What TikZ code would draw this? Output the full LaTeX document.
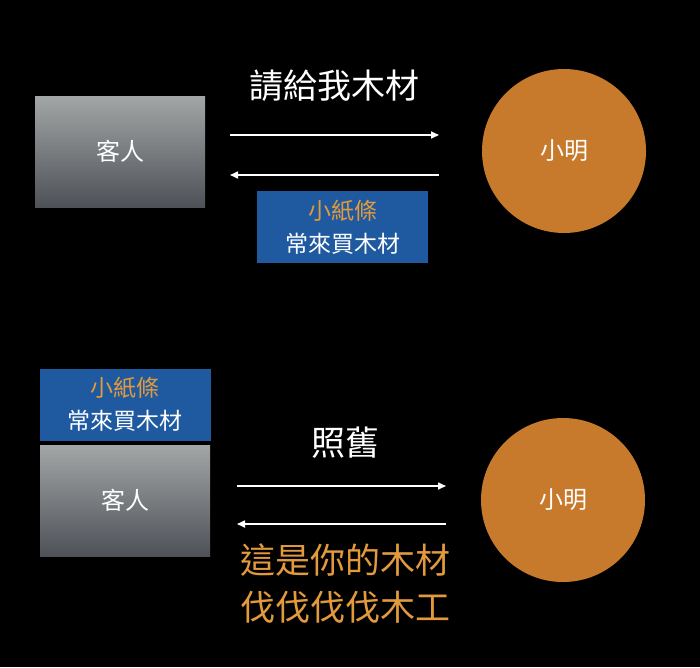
\documentclass[tikz,border=0pt]{standalone}
\usepackage{fontspec}
\newfontfamily\cjk{Noto Sans CJK TC}
\usetikzlibrary{arrows.meta}
\definecolor{boxtop}{HTML}{A2A6A6}
\definecolor{boxbot}{HTML}{4E5258}
\definecolor{note}{HTML}{1F5AA0}
\definecolor{ball}{HTML}{C87A2C}
\definecolor{amber}{HTML}{E39A3C}
\tikzset{
  person/.style={minimum width=170pt, minimum height=111pt, inner sep=0pt, top color=boxtop, bottom color=boxbot, text=white, font=\cjk\fontsize{24}{28}\selectfont},
  notebox/.style={fill=note, minimum width=171pt, minimum height=72pt, inner sep=0pt, text=white, align=center, font=\cjk\fontsize{23}{33}\selectfont},
  shop/.style={circle, fill=ball, minimum size=164pt, inner sep=0pt, text=white, font=\cjk\fontsize{24}{28}\selectfont},
  msg/.style={white, line width=1.6pt, -{Triangle[length=8pt,width=7pt]}},
  title/.style={text=white, font=\cjk\fontsize{34}{40}\selectfont},
  reply/.style={text=amber, align=center, font=\cjk\fontsize{35}{47}\selectfont}
}
\begin{document}
\begin{tikzpicture}[x=1pt,y=-1pt]
\fill[black] (0,0) rectangle (700,667);
\useasboundingbox (0,0) rectangle (700,667);
% top scene
\node[person] (c1) at (120,151.5) {客人};
\node[shop] (m1) at (564,151) {小明};
\node[title] (t1) at (334,86) {請給我木材};
\coordinate (a1s) at (230,135);
\coordinate (a1e) at (439,135);
\coordinate (b1s) at (439,175);
\coordinate (b1e) at (230,175);
\draw[msg] (a1s) -- (a1e);
\draw[msg] (b1s) -- (b1e);
\node[notebox] (n1) at (342.5,227) {\textcolor{amber}{小紙條}\\常來買木材};
% bottom scene
\node[notebox] (n2) at (125,404.5) {\textcolor{amber}{小紙條}\\常來買木材};
\node[person] (c2) at (125,500.5) {客人};
\node[shop] (m2) at (563,500) {小明};
\node[title] (t2) at (345,443) {照舊};
\coordinate (a2s) at (237,486);
\coordinate (a2e) at (446,486);
\coordinate (b2s) at (446,524);
\coordinate (b2e) at (237,524);
\draw[msg] (a2s) -- (a2e);
\draw[msg] (b2s) -- (b2e);
\node[reply] (r2) at (345,583) {這是你的木材\\伐伐伐伐木工};
\end{tikzpicture}
\end{document}
